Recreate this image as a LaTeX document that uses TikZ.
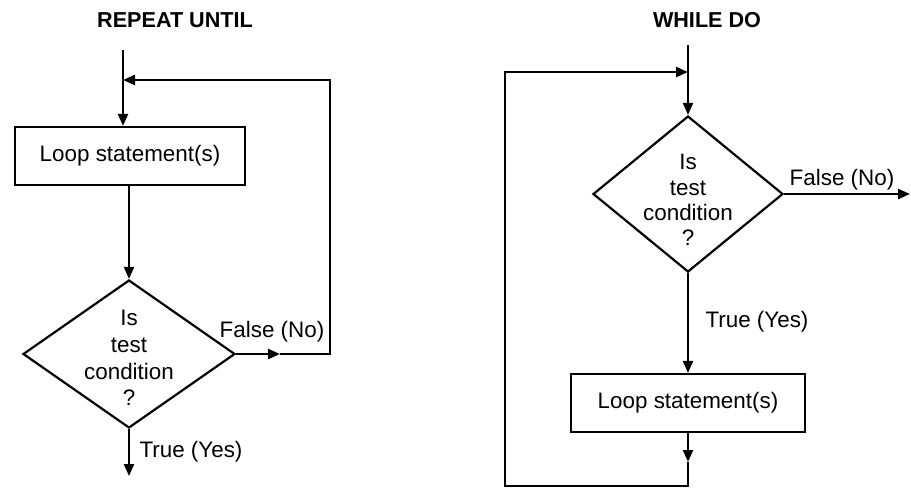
\documentclass[tikz,border=0pt]{standalone}
\usepackage{fontspec}
\setmainfont{Liberation Sans}
\usetikzlibrary{shapes.geometric,arrows.meta}
\begin{document}
\begin{tikzpicture}[x=0.5pt,y=-0.5pt, line width=1.1pt,
  >={Triangle[length=6pt,width=5pt]},
  txt/.style={font=\fontsize{11.2}{13.4}\selectfont, inner sep=0pt},
  ttl/.style={font=\fontsize{10.8}{13}\selectfont\bfseries, inner sep=0pt},
  stmt/.style={draw, rectangle, minimum width=115pt, minimum height=29pt, inner sep=0pt,
    font=\fontsize{11.2}{13.4}\selectfont},
  decision/.style={draw, diamond, inner sep=0pt},
  cond/.style={txt, align=center}]
\useasboundingbox (0,0) rectangle (911,489);

% ---------- REPEAT UNTIL ----------
\node[ttl] (t1) at (175,20) {REPEAT UNTIL};
\coordinate (s1) at (123,50);
\node[stmt] (b1) at (130,156) {Loop statement(s)};
\node[decision, minimum width=106pt, minimum height=74pt] (d1) at (129,354) {};
\node[cond] (d1t) at (129,358) {Is\\test\\condition\\?};
\coordinate (j1) at (123,80);
\draw[->] (s1) -- (s1 |- b1.north);
\draw[->] (d1.north |- b1.south) -- (d1.north);
\coordinate (f1m) at (280,354);
\coordinate (f1c) at (330,354);
\draw[->] (d1.east) -- (f1m);
\draw[->] (f1m) -- (f1c) |- (j1);
\node[txt] (fl1) at (272,332) {False (No)};
\coordinate (e1) at (129,476);
\draw[->] (d1.south) -- (e1);
\node[txt] (tl1) at (191,452) {True (Yes)};

% ---------- WHILE DO ----------
\node[ttl] (t2) at (707,20) {WHILE DO};
\coordinate (s2) at (688,45);
\node[decision, minimum width=95pt, minimum height=78pt] (d2) at (688,194) {};
\node[cond, font=\fontsize{11.2}{12.6}\selectfont] (d2t) at (688,200) {Is\\test\\condition\\?};
\draw[->] (s2) -- (d2.north);
\coordinate (j2) at (688,72);
\coordinate (f2e) at (910,194);
\draw[->] (d2.east) -- (f2e);
\node[txt] (fl2) at (842,180) {False (No)};
\node[stmt, minimum width=117pt] (b2) at (688,403) {Loop statement(s)};
\draw[->] (d2.south) -- (b2.north);
\node[txt] (tl2) at (757,322) {True (Yes)};
\coordinate (m2) at (688,462);
\draw[->] (b2.south) -- (m2);
\coordinate (c2) at (505,486);
\draw[->] (m2) |- (c2) |- (j2);
\end{tikzpicture}
\end{document}
